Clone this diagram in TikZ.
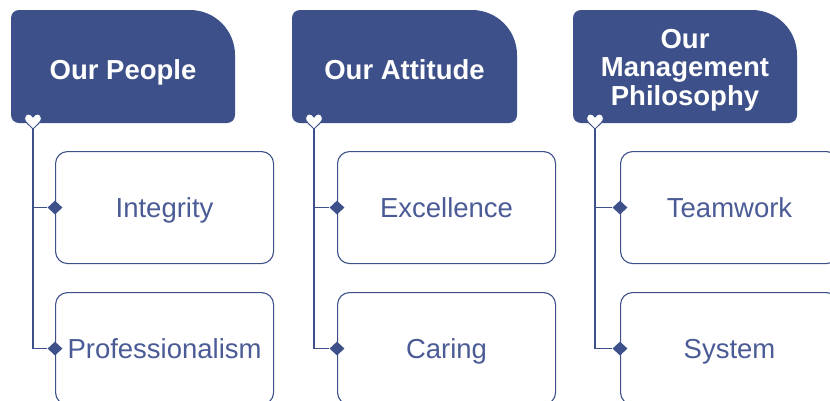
\documentclass[tikz,border=0pt]{standalone}
\usepackage{fontspec}
\setmainfont{Liberation Sans}
\usetikzlibrary{shapes.geometric}
\definecolor{navy}{RGB}{61,80,137}
\definecolor{txtblue}{RGB}{74,91,149}
\begin{document}
\begin{tikzpicture}[x=1pt,y=-1pt,
  hdrtext/.style={text=white, font=\fontsize{27.5}{28.5}\selectfont\bfseries, align=center, inner sep=0pt, anchor=north},
  itembox/.style={draw=navy, line width=1.1pt, rounded corners=12pt, minimum width=218pt, minimum height=112pt, anchor=north west, text=txtblue, font=\fontsize{27.5}{32}\selectfont, text height=19.7pt, text depth=0pt},
  marker/.style={diamond, fill=navy, inner sep=0pt, minimum width=15pt, minimum height=14pt},
  conn/.style={draw=navy, line width=1.3pt},
  heartstyle/.style={fill=white, draw=navy, line width=1pt}]
\useasboundingbox (0,0) rectangle (830,400);
\clip (0,0) rectangle (830,400);
\foreach \i/\xl/\xr/\bx/\ty/\htxt/\itemA/\itemB in {1/11/235/55/59.5/{Our People}/Integrity/Professionalism, 2/292/517/337/59.5/{Our Attitude}/Excellence/Caring, 3/573/797/620/29/{Our\\Management\\Philosophy}/Teamwork/System}{
  \fill[navy] (\xl,18) .. controls (\xl,13.58) and (\xl+3.58,10) .. (\xl+8,10)
    -- (\xr-45,10) .. controls (\xr-20.15,10) and (\xr,30.15) .. (\xr,55)
    -- (\xr,115) .. controls (\xr,119.42) and (\xr-3.58,123) .. (\xr-8,123)
    -- (\xl+8,123) .. controls (\xl+3.58,123) and (\xl,119.42) .. (\xl,115) -- cycle;
  \node[hdrtext] (h\i) at ({(\xl+\xr)/2},\ty) {\htxt};
  \pgfmathsetmacro\cx{\xl+22}
  \coordinate (k\i) at (\cx,129);
  \path[heartstyle] (\cx,129) .. controls (\cx-3,125.5) and (\cx-8.5,122) .. (\cx-8.5,118.5)
    .. controls (\cx-8.5,113) and (\cx-2,112.5) .. (\cx,117)
    .. controls (\cx+2,112.5) and (\cx+8.5,113) .. (\cx+8.5,118.5)
    .. controls (\cx+8.5,122) and (\cx+3,125.5) .. (\cx,129) -- cycle;
  \node[itembox] (a\i) at (\bx,151) {\itemA};
  \node[itembox] (b\i) at (\bx,292) {\itemB};
  \node[marker] (da\i) at (a\i.west) {};
  \node[marker] (db\i) at (b\i.west) {};
  \draw[conn] (k\i) |- (db\i);
  \draw[conn] (k\i |- da\i) -- (da\i);
}
\end{tikzpicture}
\end{document}
